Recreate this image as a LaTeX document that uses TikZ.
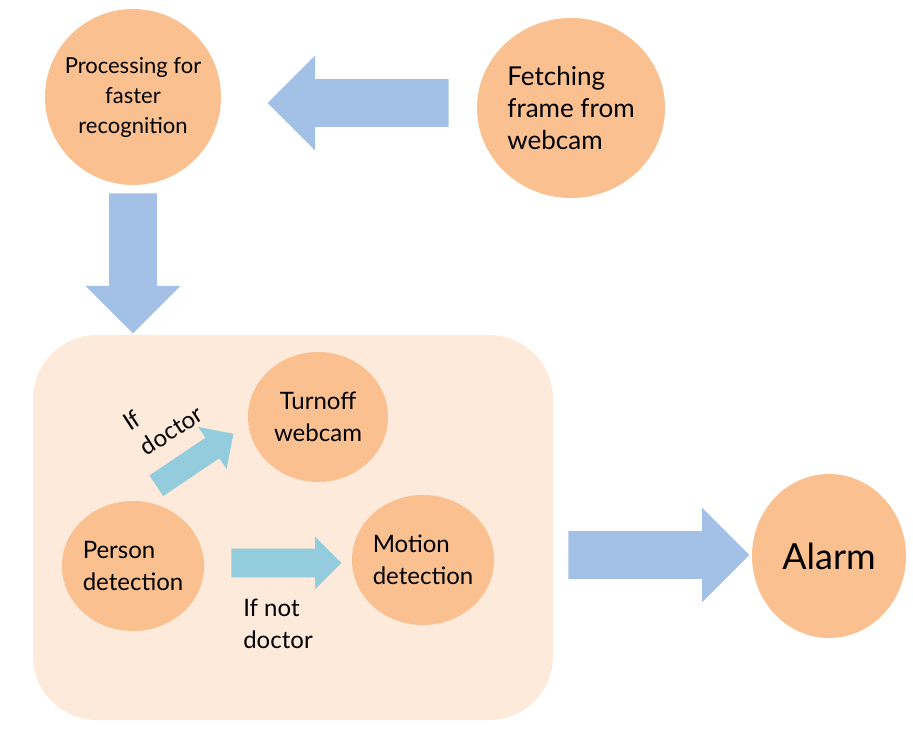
\documentclass[tikz,border=0pt]{standalone}
\usepackage{fontspec}
\setmainfont{Lato}
\usetikzlibrary{shapes.geometric,shapes.arrows}
\definecolor{bubble}{HTML}{FAC090}
\definecolor{panel}{HTML}{FDEADA}
\definecolor{flowblue}{HTML}{A3C1E7}
\definecolor{flowteal}{HTML}{93CDDD}
\tikzset{
    stage/.style={ellipse, fill=bubble, align=center, inner sep=0pt, font=\fontsize{12}{16}\selectfont}, % orange bubbles
    bigflow/.style={single arrow, fill=flowblue, anchor=tail, inner xsep=0pt, inner ysep=11.75pt, single arrow head extend=11.75pt, minimum height=90.5pt},
    smallflow/.style={single arrow, fill=flowteal, anchor=tail, inner xsep=0pt}
}
\begin{document}
\begin{tikzpicture}[x=0.5pt, y=-0.5pt]
    \useasboundingbox (0,0) rectangle (913,732);
    \fill[panel, rounded corners=32pt] (33,335) rectangle (553,720);

    \node[stage, minimum width=88pt, minimum height=88pt, inner xsep=-4pt, font=\fontsize{11}{15}\selectfont] (proc) at (133,97) {Processing for\\faster\\recognition};
    \node[stage, minimum width=94pt, minimum height=90pt, align=left, font=\fontsize{13}{16}\selectfont] (fetch) at (571,108) {Fetching\\frame from\\webcam};
    \node[stage, minimum width=70pt, minimum height=65pt] (turnoff) at (318,417) {Turnoff\\webcam};
    \node[stage, minimum width=69pt, minimum height=65pt, align=left] (person) at (133,566) {Person\\detection};
    \node[stage, minimum width=69pt, minimum height=65pt, align=left] (motion) at (423,560) {Motion\\detection};
    \node[stage, minimum width=77pt, minimum height=82pt, font=\fontsize{18}{22}\selectfont] (alarm) at (829,556) {Alarm};

    \node[bigflow, rotate=180] (fetchflow) at (449,103) {};
    \node[bigflow, rotate=-90, minimum height=70pt] (procflow) at (133,193) {};
    \node[bigflow] (alarmflow) at (568,555) {};
    \node[smallflow, rotate=34, inner ysep=6pt, single arrow head extend=6.5pt, minimum height=46.5pt] (doctorflow) at (156,486) {};
    \node[smallflow, inner ysep=7pt, single arrow head extend=6pt, minimum height=55pt] (otherflow) at (231,563) {};

    \node[rotate=33, align=left, font=\fontsize{12}{15}\selectfont] (ifdoctor) at (163,418) {If\\doctor};
    \node[align=left, font=\fontsize{12}{16}\selectfont] (ifnot) at (278,624) {If not\\doctor};
\end{tikzpicture}
\end{document}
